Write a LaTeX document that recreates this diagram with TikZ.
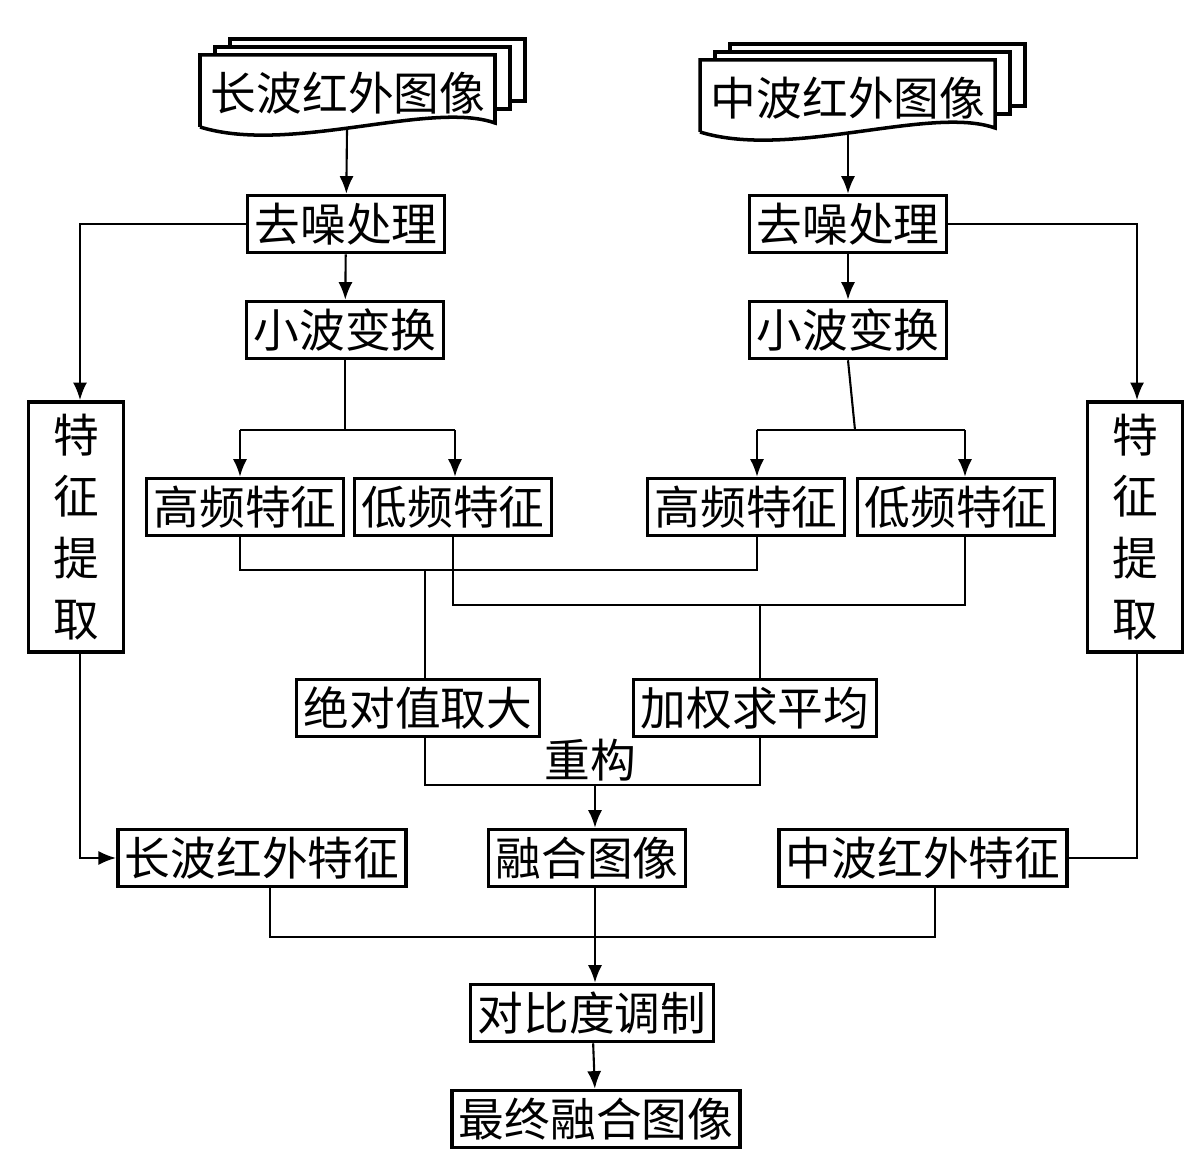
\documentclass[tikz,border=0pt]{standalone}
\usepackage{fontspec}
\setmainfont{Noto Sans CJK SC}
\usetikzlibrary{arrows.meta}
\tikzset{
  box/.style={draw,line width=1pt,fill=white,minimum height=0.57cm,inner sep=2pt,font=\fontsize{13}{15}\selectfont},
  vbox/.style={draw,line width=1pt,minimum width=0.95cm,minimum height=2.37cm,align=center,font=\fontsize{13}{17.5}\selectfont},
  line/.style={line width=0.6pt},
  arr/.style={line,-{Latex[length=5pt,width=4pt]}}
}
\newcommand{\docstack}[3]{% left x, top y, name
  \foreach \d in {2,1}{
    \draw[line width=1pt,fill=white] (#1+15*\d,#2-8*\d) rectangle (#1+295+15*\d,#2+62-8*\d);
  }
  \draw[line width=1pt,fill=white] (#1,#2+72) -- (#1,#2) -- (#1+295,#2) -- (#1+295,#2+68)
    .. controls (#1+230,#2+45) and (#1+90,#2+100) .. (#1,#2+72);
  \coordinate (#3) at (#1+147,#2+75);
}
\begin{document}
\begin{tikzpicture}[x=0.01cm,y=-0.01cm]
\useasboundingbox (0,0) rectangle (1200,1168);
% input images
\docstack{200}{55}{lw}
\docstack{700}{60}{mw}
\node[font=\fontsize{13}{15}\selectfont] at (348,93) {长波红外图像};
\node[font=\fontsize{13}{15}\selectfont] at (848,98) {中波红外图像};
% left branch
\node[box] (dnL) at (346,224) {去噪处理};
\node[box] (wtL) at (345,330) {小波变换};
\node[box] (hfL) at (245,507) {高频特征};
\node[box] (lfL) at (453,507) {低频特征};
\node[vbox] (feL) at (76,527) {特\\征\\提\\取};
% right branch
\node[box] (dnR) at (848,224) {去噪处理};
\node[box] (wtR) at (848,330) {小波变换};
\node[box] (hfR) at (746,507) {高频特征};
\node[box] (lfR) at (956,507) {低频特征};
\node[vbox] (feR) at (1135,527) {特\\征\\提\\取};
% fusion
\node[box] (absmax) at (418,708) {绝对值取大};
\node[box] (wavg) at (755,708) {加权求平均};
\node[font=\fontsize{13}{15}\selectfont] (rc) at (590,760) {重构};
\node[box] (lwf) at (262,858) {长波红外特征};
\node[box] (fus) at (587,858) {融合图像};
\node[box] (mwf) at (923,858) {中波红外特征};
\node[box] (cm) at (592,1013) {对比度调制};
\node[box] (out) at (596,1119) {最终融合图像};
% connectors
\draw[arr] (lw) -- (dnL);
\draw[arr] (mw) -- (dnR |- mw) -- (dnR);
\draw[arr] (dnL) -- (wtL);
\draw[arr] (dnR) -- (wtR);
\draw[arr] (dnL.west) -| (80,0 |- feL.north);
\draw[arr] (dnR.east) -| (1137,0 |- feR.north);
\draw[line] (wtL.south) -- (345,430);
\draw[arr] (240,430) -- (455,430) (240,430) -- (240,0 |- hfL.north);
\draw[arr] (455,430) -- (455,0 |- lfL.north);
\draw[line] (wtR.south) -- (855,430);
\draw[arr] (757,430) -- (965,430) (757,430) -- (757,0 |- hfR.north);
\draw[arr] (965,430) -- (965,0 |- lfR.north);
\draw[line] (240,0 |- hfL.south) -- (240,570) -- (757,570) -- (757,0 |- hfR.south);
\draw[line] (453,0 |- lfL.south) -- (453,605) -- (965,605) -- (965,0 |- lfR.south);
\draw[line] (425,570) -- (425,0 |- absmax.north);
\draw[line] (760,605) -- (760,0 |- wavg.north);
\draw[line] (425,0 |- absmax.south) -- (425,785) -- (760,785) -- (760,0 |- wavg.south);
\draw[arr] (595,785) -- (595,0 |- fus.north);
\draw[arr] (80,0 |- feL.south) |- (lwf.west);
\draw[line] (1137,0 |- feR.south) |- (mwf.east);
\draw[line] (270,0 |- lwf.south) -- (270,937) -- (935,937) -- (935,0 |- mwf.south);
\draw[arr] (595,0 |- fus.south) -- (595,0 |- cm.north);
\draw[arr] (cm) -- (out);
\end{tikzpicture}
\end{document}
